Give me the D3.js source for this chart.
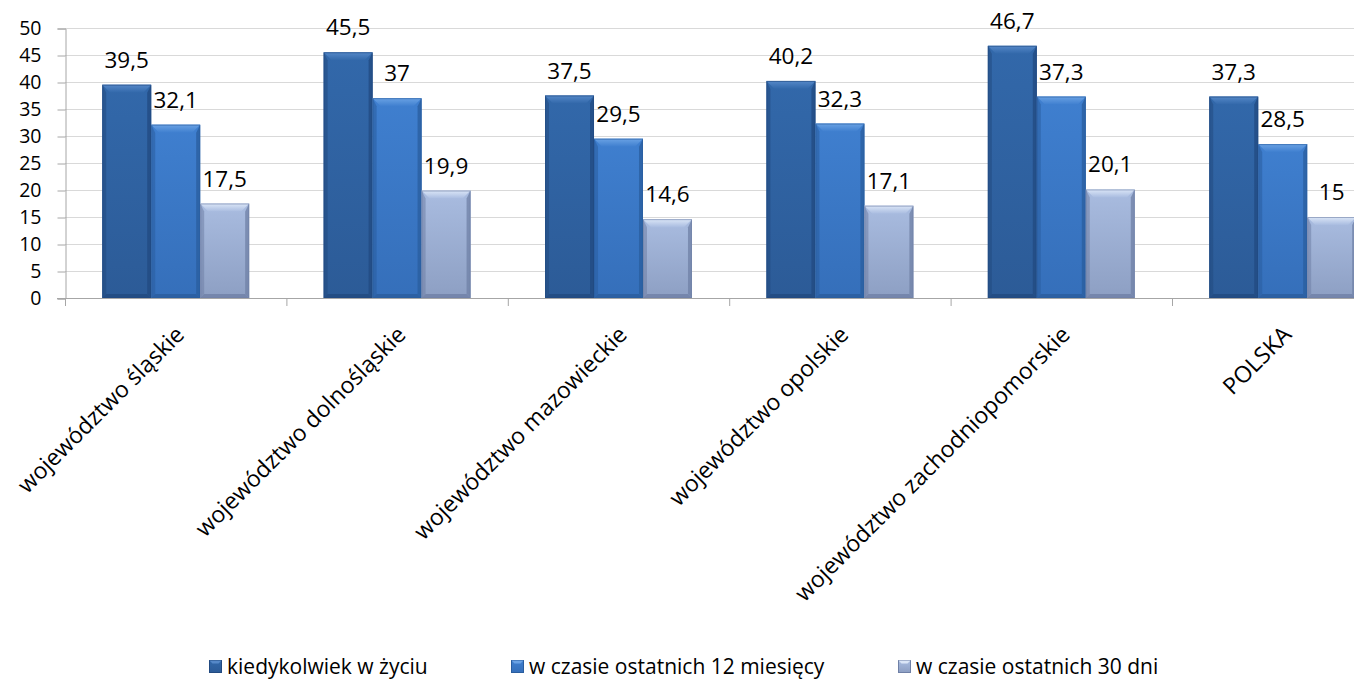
<!DOCTYPE html>
<html>
<head>
<meta charset="utf-8">
<script src="https://cdn.jsdelivr.net/npm/d3@7"></script>
<style>
  html, body { margin: 0; padding: 0; background: #fff; }
  svg { display: block; font-family: "Open Sans", Carlito, sans-serif; }
</style>
</head>
<body>
<svg id="chart" width="1354" height="684"></svg>
<script>
// Survey results by region (percent)
const categories = [
  "województwo śląskie",
  "województwo dolnośląskie",
  "województwo mazowieckie",
  "województwo opolskie",
  "województwo zachodniopomorskie",
  "POLSKA"
];
const seriesNames = [
  "kiedykolwiek w życiu",
  "w czasie ostatnich 12 miesięcy",
  "w czasie ostatnich 30 dni"
];
const everInLife   = [39.5, 45.5, 37.5, 40.2, 46.7, 37.3];
const last12Months = [32.1, 37.0, 29.5, 32.3, 37.3, 28.5];
const last30Days   = [17.5, 19.9, 14.6, 17.1, 20.1, 15.0];
const yTicks = [0, 5, 10, 15, 20, 25, 30, 35, 40, 45, 50];

const seriesValues = [everInLife, last12Months, last30Days];

// bar palettes: body top, body bottom, bevel light, bevel dark
const palettes = [
  { top: "#3268aa", bottom: "#2c5b97", light: "#5588c8", dark: "#224a80" },
  { top: "#3f7fcf", bottom: "#356fba", light: "#6aa2e4", dark: "#2a5d9e" },
  { top: "#a9bce0", bottom: "#8d9fc3", light: "#dbe6f7", dark: "#6f80a6" }
];

const svg = d3.select("#chart");
const margin = { left: 65, top: 28, bottom: 298 };
const band = 221.4;
const W = 1354;

const x = d3.scaleBand()
  .domain(categories)
  .range([margin.left, margin.left + band * categories.length])
  .paddingInner(0).paddingOuter(0);

const xs = d3.scaleBand()
  .domain(d3.range(seriesNames.length))
  .range([0, x.bandwidth()])
  .paddingInner(0)
  .paddingOuter(0.76);

const y = d3.scaleLinear().domain([0, 50]).range([margin.bottom, margin.top]);

const defs = svg.append("defs");
palettes.forEach((p, i) => {
  const g = defs.append("linearGradient").attr("id", "body" + i)
    .attr("x1", 0).attr("y1", 0).attr("x2", 0).attr("y2", 1);
  g.append("stop").attr("offset", "0%").attr("stop-color", p.top);
  g.append("stop").attr("offset", "100%").attr("stop-color", p.bottom);
  const t = defs.append("linearGradient").attr("id", "bevel" + i)
    .attr("x1", 0).attr("y1", 0).attr("x2", 0).attr("y2", 1);
  t.append("stop").attr("offset", "0%").attr("stop-color", p.light);
  t.append("stop").attr("offset", "100%").attr("stop-color", p.top);
});

// gridlines
svg.append("g")
  .selectAll("line")
  .data(yTicks.filter(d => d > 0))
  .join("line")
  .attr("x1", margin.left).attr("x2", W)
  .attr("y1", d => y(d) + 0.5).attr("y2", d => y(d) + 0.5)
  .attr("stroke", "#d9d9d9").attr("stroke-width", 1);

// y axis
const yAxis = svg.append("g")
  .attr("transform", `translate(${margin.left + 0.5},0.5)`)
  .call(d3.axisLeft(y).tickValues(yTicks).tickSize(8).tickPadding(16).tickFormat(d3.format("d")));
yAxis.select(".domain").attr("stroke", "#a6a6a6");
yAxis.selectAll(".tick line").attr("stroke", "#a6a6a6");
yAxis.selectAll("text").attr("font-size", 19.5).attr("fill", "#000")
  .attr("font-family", "'Open Sans', sans-serif");

// bars
const groups = svg.append("g")
  .selectAll("g")
  .data(categories)
  .join("g")
  .attr("transform", d => `translate(${x(d)},0)`);

const bev = 8, side = 4;
groups.each(function (cat, ci) {
  const g = d3.select(this);
  seriesValues.forEach((vals, si) => {
    const v = vals[ci];
    const bx = xs(si), bw = xs.bandwidth();
    const by = y(v), bh = y(0) - y(v);
    const p = palettes[si];
    const bar = g.append("g");
    bar.append("rect").attr("x", bx).attr("y", by).attr("width", bw).attr("height", bh)
      .attr("fill", `url(#body${si})`);
    // left & right edges
    bar.append("path")
      .attr("d", `M${bx},${by} L${bx + side},${by + bev} L${bx + side},${by + bh - side} L${bx},${by + bh} Z`)
      .attr("fill", p.dark).attr("opacity", 0.55);
    bar.append("path")
      .attr("d", `M${bx + bw},${by} L${bx + bw - side},${by + bev} L${bx + bw - side},${by + bh - side} L${bx + bw},${by + bh} Z`)
      .attr("fill", p.dark).attr("opacity", 0.75);
    // bottom edge
    bar.append("path")
      .attr("d", `M${bx},${by + bh} L${bx + side},${by + bh - side} L${bx + bw - side},${by + bh - side} L${bx + bw},${by + bh} Z`)
      .attr("fill", p.dark).attr("opacity", 0.8);
    // top bevel
    bar.append("path")
      .attr("d", `M${bx},${by} L${bx + bw},${by} L${bx + bw - bev},${by + bev} L${bx + bev},${by + bev} Z`)
      .attr("fill", `url(#bevel${si})`);
    bar.append("rect").attr("x", bx + 0.5).attr("y", by + 0.5).attr("width", bw - 1).attr("height", bh - 1)
      .attr("fill", "none").attr("stroke", p.dark).attr("stroke-opacity", 0.6).attr("stroke-width", 1);
    // value label
    g.append("text")
      .attr("x", bx + bw / 2).attr("y", by - 17)
      .attr("text-anchor", "middle")
      .attr("font-size", 22.5).attr("fill", "#000")
      .text(String(v).replace(".", ","));
  });
});

// x axis
svg.append("line")
  .attr("x1", margin.left - 8).attr("x2", W)
  .attr("y1", y(0) + 0.5).attr("y2", y(0) + 0.5)
  .attr("stroke", "#a6a6a6");
svg.append("g")
  .selectAll("line")
  .data(d3.range(categories.length + 1))
  .join("line")
  .attr("x1", i => margin.left + band * i + 0.5).attr("x2", i => margin.left + band * i + 0.5)
  .attr("y1", y(0)).attr("y2", y(0) + 8)
  .attr("stroke", "#a6a6a6");

// category labels, rotated
svg.append("g")
  .selectAll("text")
  .data(categories)
  .join("text")
  .attr("transform", d => `translate(${x(d) + x.bandwidth() / 2 + 10},${y(0) + 38}) rotate(-45)`)
  .attr("text-anchor", "end")
  .attr("font-size", 23).attr("fill", "#000")
  .text(d => d);

// legend
const legendX = [209, 511, 898];
const legend = svg.append("g");
seriesNames.forEach((name, i) => {
  const p = palettes[i];
  const lg = legend.append("g").attr("transform", `translate(${legendX[i]},660)`);
  lg.append("rect").attr("x", 0.5).attr("y", 0.5).attr("width", 12).attr("height", 12)
    .attr("fill", `url(#body${i})`).attr("stroke", p.dark).attr("stroke-width", 1);
  lg.append("path").attr("d", "M0.5,0.5 L12.5,0.5 L9.5,3.5 L3.5,3.5 Z").attr("fill", p.light);
  lg.append("text").attr("x", 18).attr("y", 14).attr("font-size", 21).attr("fill", "#000").text(name);
});
</script>
</body>
</html>
